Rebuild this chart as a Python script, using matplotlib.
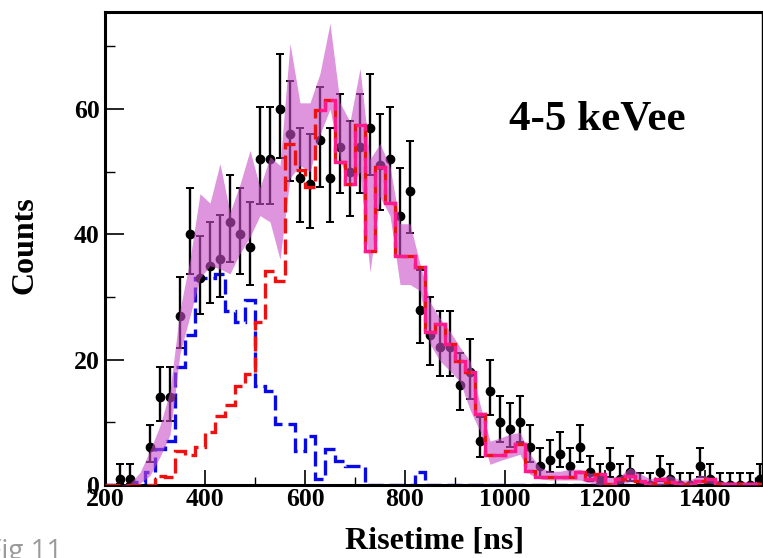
import numpy as np
import matplotlib
matplotlib.use("Agg")
import matplotlib.pyplot as plt
from matplotlib.ticker import MultipleLocator

# ---------------- data ----------------
bin_width = 20
x_start = 200

# data points, bin centres 210 ... 1510 (NaN = not drawn)
data_counts = [np.nan, 1, 1, np.nan, 6, 14, 14, 27, 40, 33,
               35, 36, 42, 40, 38, 52, 52, 60, 56, 49,
               48, 55, 49, 54, 50, 54, 57, 51, 52, 43,
               47, 28, 24, 22, 22, 16, 18, 7, 15, 10,
               9, 10, 6, 3, 4, 5, 3, 6, 2, 1,
               3, 1, 2, 0, 0, 2, 1, 0, 0, 3,
               1, 0, 0, 0, 0, 1]

# blue dashed histogram (fast / surface component), bins from 200
blue_counts = [0, 0, 0, 0.5, 2, 5.7, 7, 18.8, 24, 33,
               33, 33.7, 27.7, 26, 29.5, 15.8, 15, 9.7, 9.7, 5.4,
               7.8, 0.9, 5.8, 3.8, 3, 3, 0, 0, 0, 0,
               0, 2, 0, 0, 0, 0, 0, 0, 0, 0,
               0, 0, 0, 0, 0, 0, 0, 0, 0, 0,
               0, 0, 0, 0, 0, 0, 0, 0, 0, 0,
               0, 0, 0, 0, 0, 0]

# red dashed histogram (bulk component), bins from 200
red_counts = [0, 0, 0, 0, 0, 1.5, 1.2, 5.5, 4.8, 6,
              8.5, 11, 12.7, 15.8, 17.7, 26, 34.2, 32.6, 54.5, 50.3,
              47.5, 59.8, 61.4, 51.5, 48, 57.4, 37.4, 50.8, 45, 36.6,
              36.6, 34.8, 24.4, 25.7, 22.5, 19.8, 18.1, 11.3, 4.8, 4.8,
              5.4, 6.5, 2.2, 1.2, 1.2, 1.2, 1.2, 2, 1, 1.7,
              0.1, 0.9, 1.5, 0.6, 0.2, 0.9, 0.5, 0.1, 0.2, 0.6,
              0.9, 0.2, 0.2, 0.2, 0.2, 0.2]

# magenta dashed histogram (total), bins from 620
sum_start = 620
sum_counts = [59.8, 61.4, 51.5, 48, 57.4, 37.4, 50.8, 45, 36.6,
              36.6, 34.8, 24.4, 25.7, 22.5, 19.8, 18.1, 11.3, 4.8, 4.8,
              5.4, 6.5, 2.2, 1.2, 1.2, 1.2, 1.2, 2, 1, 1.7,
              0.1, 0.9, 1.5, 0.6, 0.2, 0.9, 0.5, 0.1, 0.2, 0.6,
              0.9, 0.2, 0.2, 0.2, 0.2, 0.2]

# magenta uncertainty band at bin centres 210 ... 1510
band_low = [0, 0, 0, 0.3, 1.5, 4.5, 8, 21, 27, 33,
            35, 34.5, 33.7, 37, 39.6, 43, 42, 36, 49, 51,
            50, 56, 60, 52, 47.5, 50, 34, 46, 43, 32,
            32, 31, 22.5, 19.8, 18.2, 16.5, 12, 8.6, 3.3, 3.9,
            4.4, 4.9, 1.7, 1, 0.8, 0.8, 0.8, 0.8, 0.3, 0,
            0.2, 0.2, 0.5, 0.3, 0, 0, 0.2, 0, 0, 0.3,
            0.3, 0, 0, 0, 0, 0]
band_high = [0, 0, 0.3, 2, 5.5, 9.5, 15, 28, 36, 46.5,
             45, 51.3, 43.5, 48, 53.4, 47.5, 52.4, 51, 70.5, 61,
             61, 65.7, 73.7, 61, 58, 66.5, 52, 54.5, 50.8, 41.7,
             41.7, 35.3, 29.2, 26.6, 24.5, 22, 19.8, 12.9, 7, 7.5,
             8.1, 8.4, 4.9, 2.8, 2.2, 2.2, 2.5, 2.5, 1.9, 2,
             1.2, 1.4, 2.8, 1.8, 1, 1.2, 1.5, 0.8, 0.8, 1.6,
             1.2, 0.6, 0.5, 0.5, 0.5, 0.5]

x_ticks = [200, 400, 600, 800, 1000, 1200, 1400]
y_ticks = [0, 20, 40, 60]
label_text = "4-5 keVee"

# ---------------- figure ----------------
W, H = 763, 558
fig = plt.figure(figsize=(W / 100, H / 100), dpi=100)
ax = fig.add_axes([105 / W, (H - 485) / H, 657 / W, 473 / H])

serif = ["Liberation Serif", "DejaVu Serif"]

n = len(data_counts)
edges = x_start + bin_width * np.arange(len(red_counts) + 1)
centres = x_start + bin_width * (np.arange(n) + 0.5)
sum_edges = sum_start + bin_width * np.arange(len(sum_counts) + 1)

lw = 2.4
dash = (0, (4.5, 1.8))
ax.stairs(blue_counts, edges, baseline=None, color="#0a0ae6", lw=lw,
          linestyle=dash, zorder=2)

y = np.array(data_counts, dtype=float)
m = ~np.isnan(y)
yl = np.sqrt(np.clip(y[m] - 0.25, 0, None))
yh = np.sqrt(y[m] + 0.75) + 1
ax.errorbar(centres[m], y[m], yerr=[yl, yh], fmt="o", color="black",
            ms=6, elinewidth=1.7, capsize=3, capthick=1.4, zorder=3)

ax.fill_between(centres, band_low, band_high, color="#c84ec8", alpha=0.6,
                lw=0, zorder=4)

ax.stairs(red_counts, edges, baseline=None, color="#ee1111", lw=lw,
          linestyle=dash, zorder=5)
ax.stairs(sum_counts, sum_edges, baseline=None, color="#ff1a8c", lw=lw,
          linestyle=(5, (4.5, 1.8)), zorder=6)

ax.set_xlim(200, 1514)
ax.set_ylim(0, 75.5)

ax.set_xticks(x_ticks)
ax.set_yticks(y_ticks)
ax.xaxis.set_minor_locator(MultipleLocator(100))
ax.yaxis.set_minor_locator(MultipleLocator(10))
ax.tick_params(axis="both", which="both", direction="in", top=False, right=False)
ax.tick_params(axis="x", which="major", length=11, width=1.2, pad=2)
ax.tick_params(axis="x", which="minor", length=6, width=1.0)
ax.tick_params(axis="y", which="major", length=14, width=1.2, pad=4)
ax.tick_params(axis="y", which="minor", length=7, width=1.0)
for lab in ax.get_xticklabels() + ax.get_yticklabels():
    lab.set_fontfamily(serif)
    lab.set_fontweight("bold")
    lab.set_fontsize(18.5)
for s in ax.spines.values():
    s.set_linewidth(2.2)
ax.spines["right"].set_linewidth(1.0)

ax.text(1184, 58.4, label_text, ha="center", va="center", fontsize=31,
        fontweight="bold", family=serif)

fig.text(25 / W, 1 - 245 / H, "Counts", rotation=90, ha="center", va="center",
         fontsize=23, fontweight="bold", family=serif)
fig.text(435 / W, 1 - 541 / H, "Risetime [ns]", ha="center", va="center",
         fontsize=23, fontweight="bold", family=serif)
fig.text(62 / W, -1 / H, "Fig 11", ha="right", va="baseline", fontsize=20,
         color="#9a9a9a", family=["Open Sans", "DejaVu Sans"])

fig.savefig("out.png", dpi=100)
